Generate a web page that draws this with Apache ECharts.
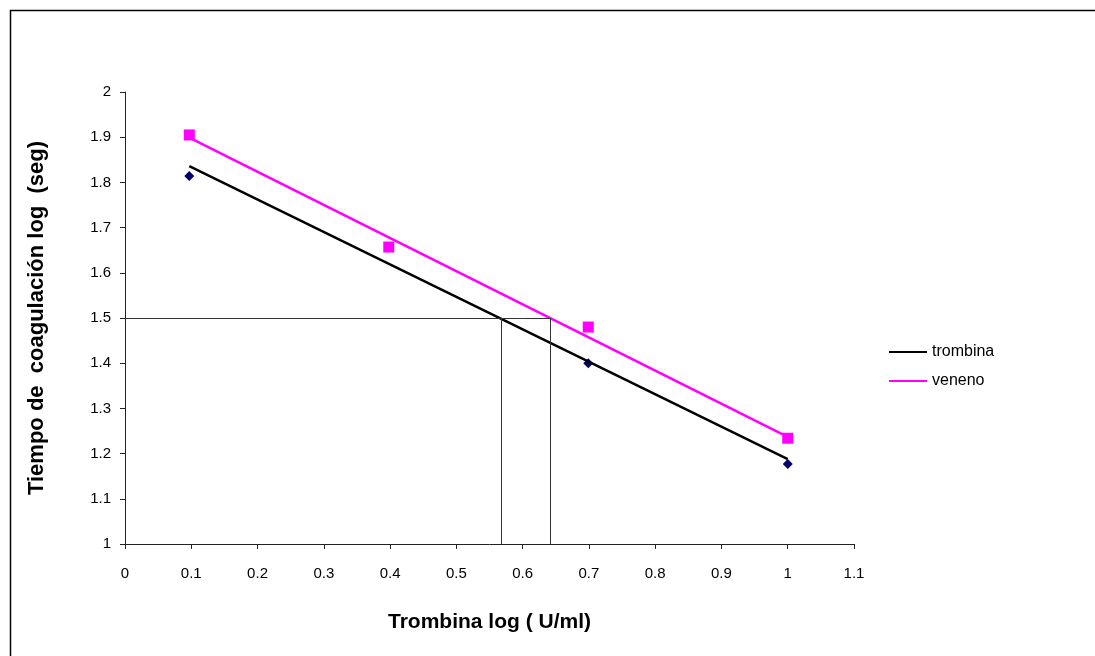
<!DOCTYPE html>
<html>
<head>
<meta charset="utf-8">
<script src="https://cdn.jsdelivr.net/npm/echarts@6/dist/echarts.min.js"></script>
<style>
  html, body { margin: 0; padding: 0; background: #fff; }
  #chart { width: 1095px; height: 656px; }
</style>
</head>
<body>
<div id="chart"></div>
<script>
// log of thrombin concentration (U/ml)
const logDose = [0.097, 0.398, 0.699, 1.0];
// log of clotting time (s)
const trombinaTime = [1.814, 1.657, 1.400, 1.177];
const venenoTime = [1.905, 1.657, 1.480, 1.234];
// trend line end points
const trombinaFit = [[0.097, 1.836], [1.0, 1.188]];
const venenoFit = [[0.097, 1.899], [1.0, 1.237]];
// guide lines at log time 1.5
const guideY = 1.5;
const guideX = [0.567, 0.641];

const font = '"Liberation Sans", Arial, sans-serif';
const axisColor = '#222';

const chart = echarts.init(document.getElementById('chart'));
chart.setOption({
    animation: false,
    textStyle: { fontFamily: font },
    grid: { left: 125, right: 241, top: 92, bottom: 112 },
    graphic: [{
        type: 'rect',
        shape: { x: 10.5, y: 10.5, width: 1200, height: 800 },
        style: { fill: 'none', stroke: '#000', lineWidth: 1.5 },
        silent: true
    }],
    legend: {
        orient: 'vertical',
        left: 884,
        top: 339,
        itemWidth: 38,
        itemHeight: 2,
        itemGap: 13,
        textStyle: { fontFamily: font, fontSize: 16, color: '#000' },
        data: [
            { name: 'trombina', icon: 'rect' },
            { name: 'veneno', icon: 'rect' }
        ]
    },
    xAxis: {
        type: 'value',
        min: 0,
        max: 1.1,
        interval: 0.1,
        name: 'Trombina log ( U/ml)',
        nameLocation: 'middle',
        nameGap: 68,
        nameTextStyle: { fontFamily: font, fontSize: 21, fontWeight: 'bold', color: '#000' },
        axisLine: { onZero: false, lineStyle: { color: axisColor, width: 1 } },
        axisTick: { show: true, length: 5, lineStyle: { color: axisColor } },
        axisLabel: { fontSize: 15, color: '#000', margin: 22 },
        splitLine: { show: false }
    },
    yAxis: {
        type: 'value',
        min: 1,
        max: 2,
        interval: 0.1,
        name: 'Tiempo de  coagulación log  (seg)',
        nameLocation: 'middle',
        nameGap: 77,
        nameRotate: 90,
        nameTextStyle: { fontFamily: font, fontSize: 22, fontWeight: 'bold', color: '#000' },
        axisLine: { show: true, onZero: false, lineStyle: { color: axisColor, width: 1 } },
        axisTick: { show: true, length: 5, lineStyle: { color: axisColor } },
        axisLabel: { fontSize: 15, color: '#000', margin: 14 },
        splitLine: { show: false }
    },
    series: [
        {
            name: 'guides',
            type: 'line',
            data: [],
            silent: true,
            markLine: {
                symbol: 'none',
                silent: true,
                label: { show: false },
                lineStyle: { color: '#333', width: 1, type: 'solid' },
                data: [
                    [{ coord: [0, guideY] }, { coord: [guideX[1], guideY] }],
                    [{ coord: [guideX[0], 1] }, { coord: [guideX[0], guideY] }],
                    [{ coord: [guideX[1], 1] }, { coord: [guideX[1], guideY] }]
                ]
            }
        },
        {
            name: 'trombina puntos',
            type: 'scatter',
            symbol: 'diamond',
            symbolSize: 10,
            itemStyle: { color: '#000070', opacity: 1 },
            data: logDose.map((x, i) => [x, trombinaTime[i]])
        },
        {
            name: 'veneno puntos',
            type: 'scatter',
            symbol: 'rect',
            symbolSize: 11,
            itemStyle: { color: '#ff00ff', opacity: 1 },
            data: logDose.map((x, i) => [x, venenoTime[i]])
        },
        {
            name: 'trombina',
            type: 'line',
            showSymbol: false,
            color: '#000',
            lineStyle: { color: '#000', width: 2.5 },
            data: trombinaFit
        },
        {
            name: 'veneno',
            type: 'line',
            showSymbol: false,
            color: '#ff00ff',
            lineStyle: { color: '#ff00ff', width: 2.5 },
            data: venenoFit
        }
    ]
});
</script>
</body>
</html>
